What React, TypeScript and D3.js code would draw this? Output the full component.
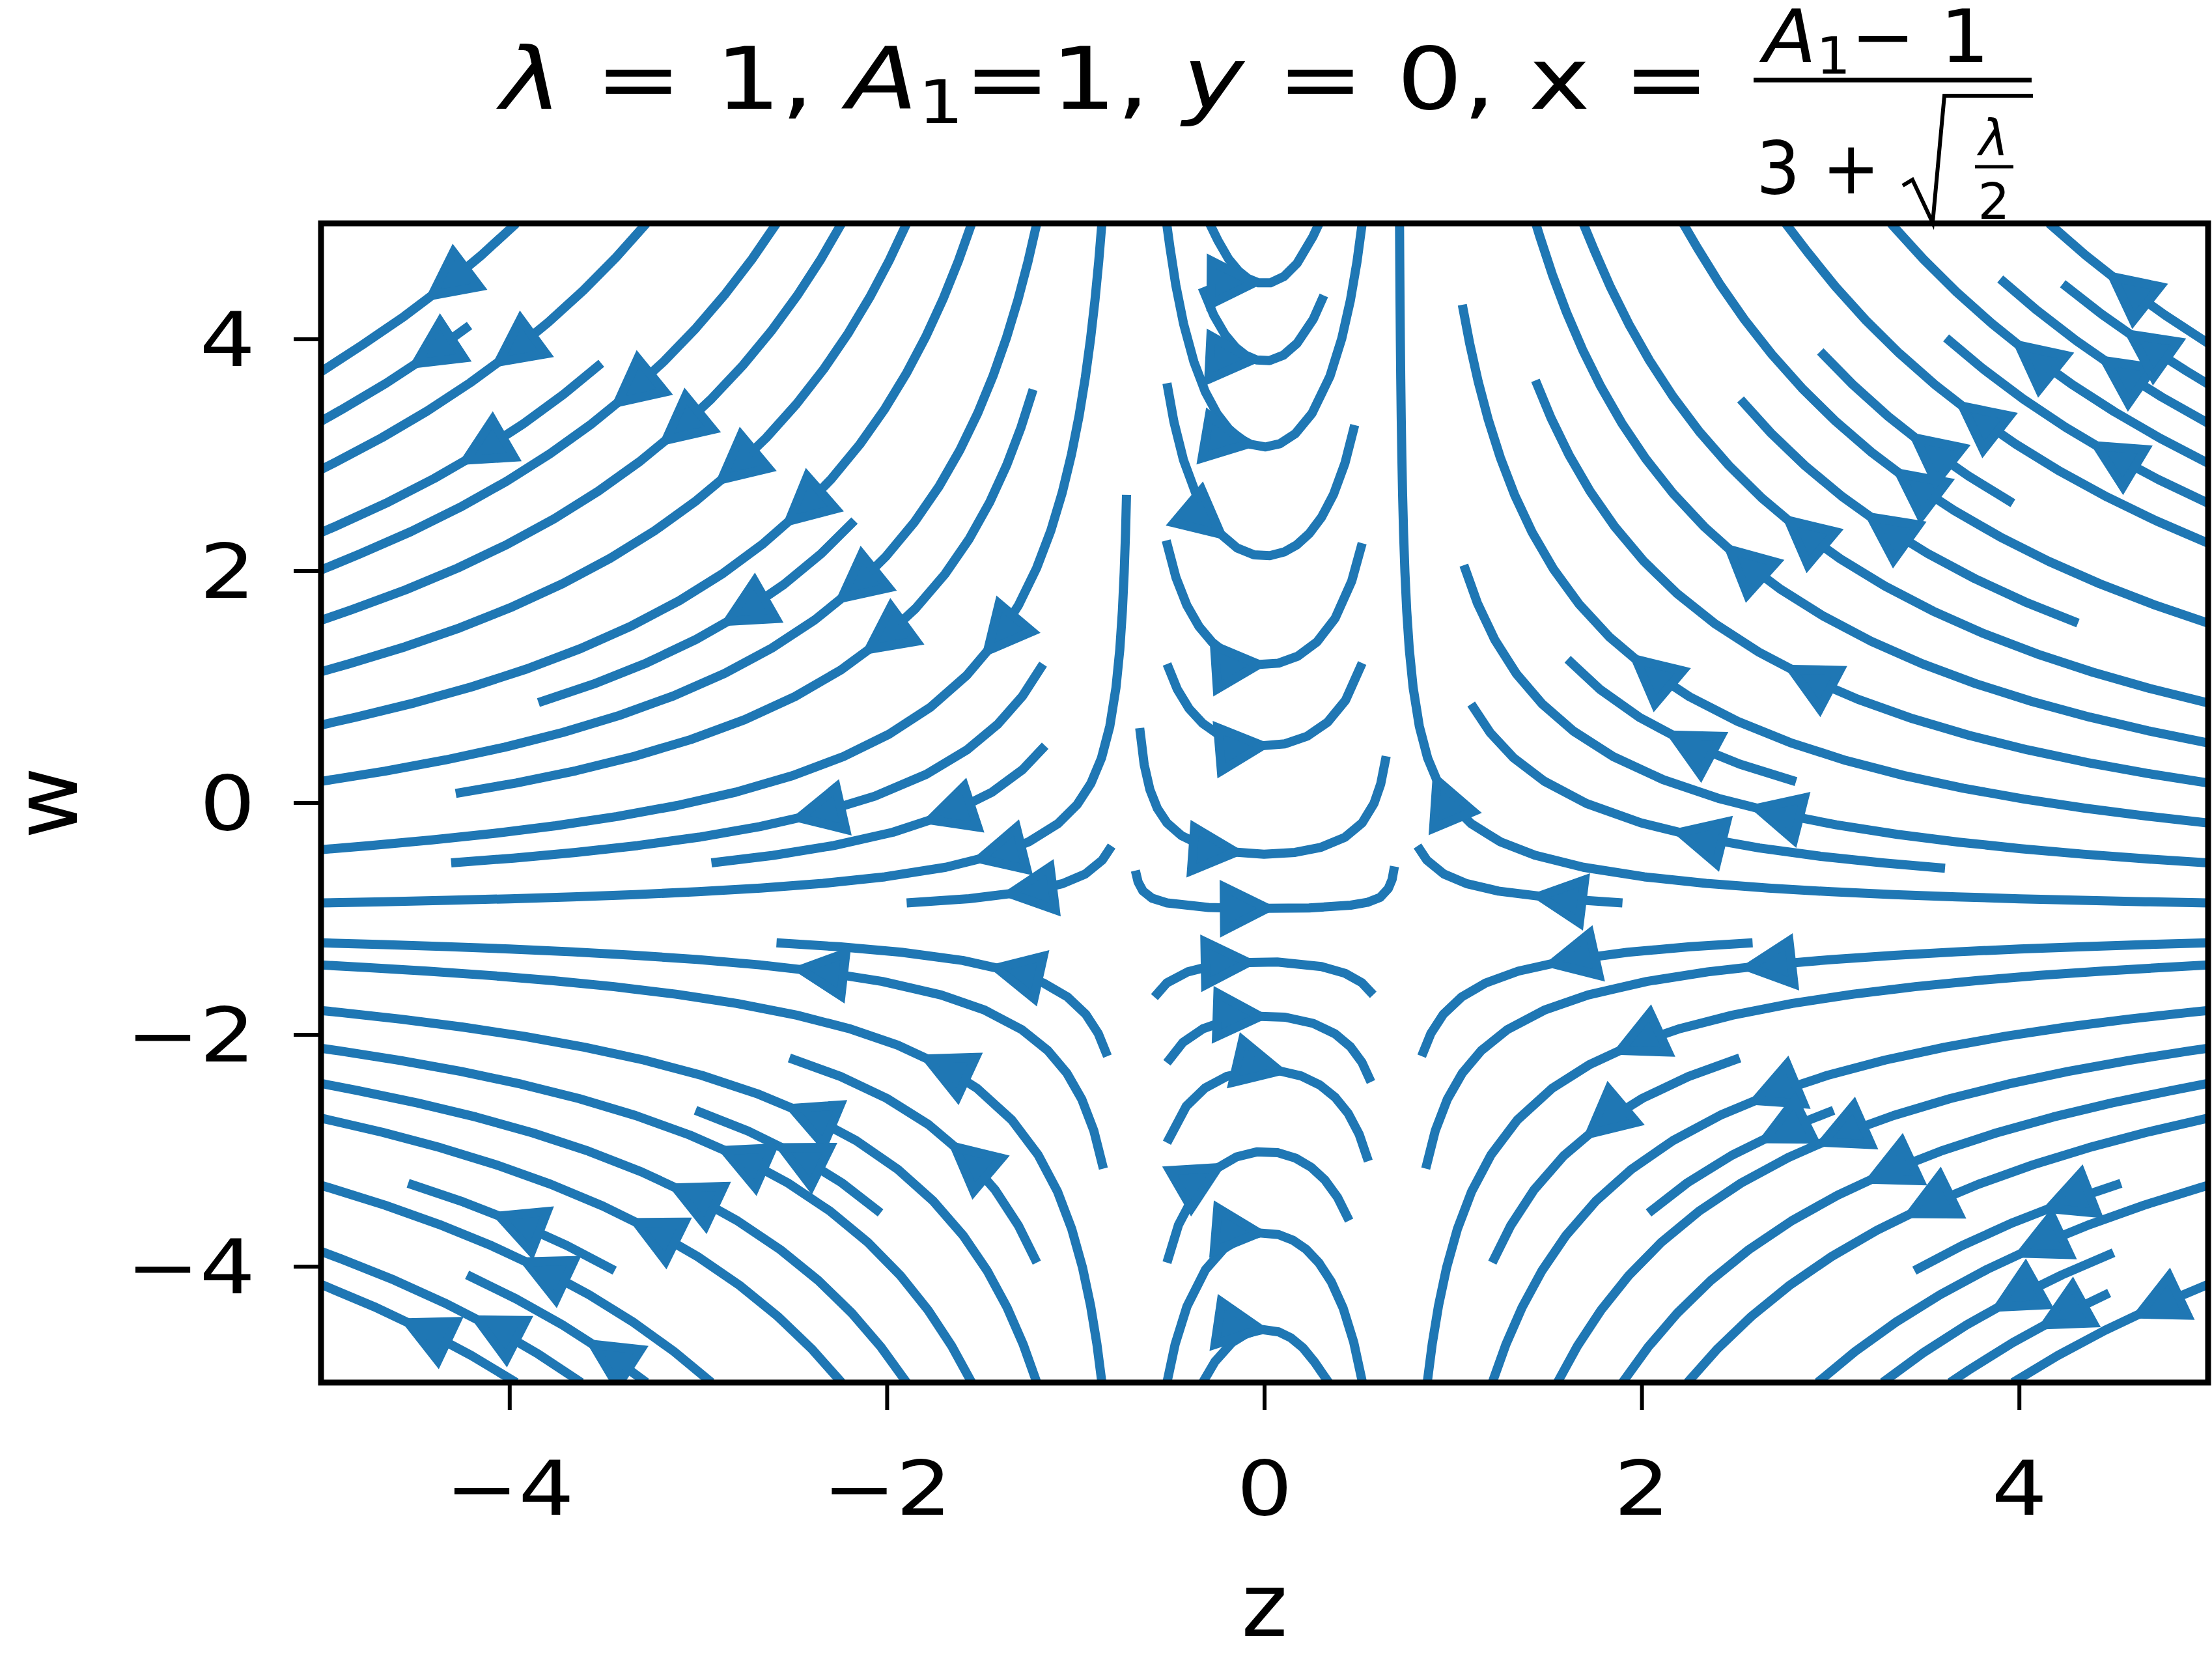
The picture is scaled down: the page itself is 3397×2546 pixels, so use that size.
import { useMemo } from "react";
import * as d3 from "d3";

// page and axes box (pixels)
const width = 3397;
const height = 2546;
const margin = { top: 343, right: 6, bottom: 423, left: 493 };

// axes
const zExtent = [-5, 5];
const wExtent = [-5, 5];
const zTicks = [-4, -2, 0, 2, 4];
const wTicks = [-4, -2, 0, 2, 4];

// field: the vertical lines sit at z = ±sqrt(lambda/2),
// the curves flatten towards w = -1, and (w + 1) * sqrt|z^2 - lambda/2| is constant on a curve
const lambdaValue = [1];
const wLevel = [-1];
const gridSize = [100, 100];
const streamDensity = [1];
const arrowScale = [165];

const blue = "#1f77b4";

// python style round (half to even), as the mask indexing uses it
const pyRound = (v: number) => (Math.abs(v % 1) === 0.5 ? 2 * Math.round(v / 2) : Math.round(v));

type P = [number, number];

function buildStreamlines() {
  const a2 = lambdaValue[0] / 2;
  const nx = gridSize[0], ny = gridSize[1];
  const gx = d3.range(nx).map((i) => zExtent[0] + ((zExtent[1] - zExtent[0]) * i) / (nx - 1));
  const gy = d3.range(ny).map((j) => wExtent[0] + ((wExtent[1] - wExtent[0]) * j) / (ny - 1));
  const dx = gx[1] - gx[0], dy = gy[1] - gy[0];

  const ug = new Float64Array(nx * ny);
  const vg = new Float64Array(nx * ny);
  const sp = new Float64Array(nx * ny);
  for (let j = 0; j < ny; j++) {
    for (let i = 0; i < nx; i++) {
      const z = gx[i], w = gy[j];
      const u = a2 - z * z;
      const v = z * (w - wLevel[0]);
      const k = j * nx + i;
      ug[k] = u / dx;
      vg[k] = v / dy;
      sp[k] = Math.hypot(ug[k] / (nx - 1), vg[k] / (ny - 1));
    }
  }

  const mnx = Math.floor(30 * streamDensity[0]), mny = Math.floor(30 * streamDensity[0]);
  const mask = new Uint8Array(mnx * mny);
  const xg2m = (mnx - 1) / (nx - 1), yg2m = (mny - 1) / (ny - 1);
  const OOB = { t: "oob" }, TERM = { t: "term" }, INV = { t: "inv" };
  let cur: P | null = null;
  let cells: number[] = [];

  const within = (xi: number, yi: number) => xi >= 0 && xi <= nx - 1 && yi >= 0 && yi <= ny - 1;
  const interp = (arr: Float64Array, xi: number, yi: number) => {
    const x = Math.trunc(xi), y = Math.trunc(yi);
    const xn = x === nx - 1 ? x : x + 1;
    const yn = y === ny - 1 ? y : y + 1;
    const xt = xi - x, yt = yi - y;
    const a0 = arr[y * nx + x] * (1 - xt) + arr[y * nx + xn] * xt;
    const a1 = arr[yn * nx + x] * (1 - xt) + arr[yn * nx + xn] * xt;
    return a0 * (1 - yt) + a1 * yt;
  };
  const fwd = (xi: number, yi: number): P => {
    if (!within(xi, yi)) throw OOB;
    const s = interp(sp, xi, yi);
    if (s === 0 || !isFinite(s)) throw TERM;
    return [interp(ug, xi, yi) / s, interp(vg, xi, yi) / s];
  };
  const bwd = (xi: number, yi: number): P => {
    const r = fwd(xi, yi);
    return [-r[0], -r[1]];
  };
  const visit = (xi: number, yi: number) => {
    const xm = pyRound(xi * xg2m), ym = pyRound(yi * yg2m);
    if (!cur || cur[0] !== xm || cur[1] !== ym) {
      if (mask[ym * mnx + xm] === 0) {
        cells.push(ym * mnx + xm);
        mask[ym * mnx + xm] = 1;
        cur = [xm, ym];
      } else throw INV;
    }
  };
  const update = (xi: number, yi: number) => {
    if (!within(xi, yi)) throw INV;
    visit(xi, yi);
  };

  const euler = (traj: P[], f: (x: number, y: number) => P) => {
    const [xi, yi] = traj[traj.length - 1];
    const [cx, cy] = f(xi, yi);
    const dsx = cx === 0 ? Infinity : cx < 0 ? xi / -cx : (nx - 1 - xi) / cx;
    const dsy = cy === 0 ? Infinity : cy < 0 ? yi / -cy : (ny - 1 - yi) / cy;
    const ds = Math.min(dsx, dsy);
    traj.push([xi + cx * ds, yi + cy * ds]);
    return ds;
  };

  const rk12 = (x0: number, y0: number, f: (x: number, y: number) => P): [number, P[]] => {
    const maxerror = 0.003;
    const maxds = Math.min(1 / mnx, 1 / mny, 0.1);
    const maxlength = 4;
    let ds = maxds, stotal = 0, xi = x0, yi = y0;
    const traj: P[] = [];
    for (let guard = 0; guard < 20000; guard++) {
      let k1: P, k2: P;
      try {
        if (within(xi, yi)) traj.push([xi, yi]);
        else throw OOB;
        k1 = f(xi, yi);
        k2 = f(xi + ds * k1[0], yi + ds * k1[1]);
      } catch (e) {
        if (e === OOB && traj.length) {
          try {
            stotal += euler(traj, f);
          } catch (_) {
            /* stop */
          }
        }
        break;
      }
      const dx1 = ds * k1[0], dy1 = ds * k1[1];
      const dx2 = ds * 0.5 * (k1[0] + k2[0]), dy2 = ds * 0.5 * (k1[1] + k2[1]);
      const error = Math.hypot((dx2 - dx1) / (nx - 1), (dy2 - dy1) / (ny - 1));
      if (error < maxerror) {
        xi += dx2;
        yi += dy2;
        try {
          update(xi, yi);
        } catch (_) {
          break;
        }
        if (stotal + ds > maxlength) break;
        stotal += ds;
      }
      ds = error === 0 ? maxds : Math.min(maxds, 0.85 * ds * Math.sqrt(maxerror / error));
    }
    return [stotal, traj];
  };

  const integrate = (x0: number, y0: number): P[] | null => {
    cells = [];
    cur = null;
    try {
      visit(x0, y0);
    } catch (_) {
      return null;
    }
    let stotal = 0;
    const [s1, t1] = rk12(x0, y0, bwd);
    stotal += s1;
    let out: P[] = t1.slice().reverse();
    cur = [pyRound(x0 * xg2m), pyRound(y0 * yg2m)];
    const [s2, t2] = rk12(x0, y0, fwd);
    stotal += s2;
    out = out.concat(t2.slice(1));
    if (stotal > 0.1) return out;
    for (const c of cells) mask[c] = 0;
    return null;
  };

  // spiral of seeds from the border inwards
  const seeds: P[] = [];
  {
    let xfirst = 0, yfirst = 1, xlast = mnx - 1, ylast = mny - 1;
    let x = 0, y = 0;
    let dir = "right";
    for (let i = 0; i < mnx * mny; i++) {
      seeds.push([x, y]);
      if (dir === "right") {
        x += 1;
        if (x >= xlast) { xlast -= 1; dir = "up"; }
      } else if (dir === "up") {
        y += 1;
        if (y >= ylast) { ylast -= 1; dir = "left"; }
      } else if (dir === "left") {
        x -= 1;
        if (x <= xfirst) { xfirst += 1; dir = "down"; }
      } else {
        y -= 1;
        if (y <= yfirst) { yfirst += 1; dir = "right"; }
      }
    }
  }

  const trajectories: P[][] = [];
  for (const [xm, ym] of seeds) {
    if (mask[ym * mnx + xm] !== 0) continue;
    const t = integrate(xm / xg2m, ym / yg2m);
    if (t) trajectories.push(t);
  }

  return trajectories.map((t) =>
    t.map(([xg, yg]) => [gx[0] + xg * dx, gy[0] + yg * dy] as P).filter((p) => isFinite(p[0]) && isFinite(p[1]))
  );
}

export default function App() {
  const x = d3.scaleLinear().domain(zExtent).range([margin.left, width - margin.right]);
  const y = d3.scaleLinear().domain(wExtent).range([height - margin.bottom, margin.top]);
  const streams = useMemo(() => buildStreamlines(), []);
  const line = d3.line<P>().x((d) => x(d[0])).y((d) => y(d[1]));

  const ms = arrowScale[0];
  const headL = 0.4 * ms, headW = 0.2 * ms, lw = 14;
  const sinT = headW / Math.hypot(headL, headW);
  const pad = (0.5 * lw) / sinT;

  const arrows = streams
    .filter((t) => t.length > 1)
    .map((t, i) => {
      const tx = t.map((p) => p[0]), ty = t.map((p) => p[1]);
      const s = d3.cumsum(d3.range(t.length - 1).map((k) => Math.hypot(tx[k + 1] - tx[k], ty[k + 1] - ty[k])));
      const half = s[s.length - 1] / 2;
      const n = d3.bisectLeft(Array.from(s), half);
      const tail: P = [x(tx[n]), y(ty[n])];
      const hx = n + 1 < t.length ? (tx[n] + tx[n + 1]) / 2 : tx[n];
      const hy = n + 1 < t.length ? (ty[n] + ty[n + 1]) / 2 : ty[n];
      const head: P = [x(hx), y(hy)];
      const ddx = head[0] - tail[0], ddy = head[1] - tail[1];
      const len = Math.hypot(ddx, ddy);
      if (len === 0) return null;
      const ux = ddx / len, uy = ddy / len;
      const tipX = head[0] - pad * ux, tipY = head[1] - pad * uy;
      const bx = tipX - headL * ux, by = tipY - headL * uy;
      const pts = [
        [bx - headW * uy, by + headW * ux],
        [tipX, tipY],
        [bx + headW * uy, by - headW * ux],
      ];
      return { key: i, d: `M${pts.map((p) => p.join(",")).join("L")}Z` };
    })
    .filter((a) => a !== null) as { key: number; d: string }[];

  const x0 = margin.left, x1 = width - margin.right, y0 = margin.top, y1 = height - margin.bottom;
  const tickLabel = (t: number) => (t < 0 ? `\u2212${-t}` : `${t}`);

  return (
    <svg width={width} height={height} style={{ position: "absolute", left: 0, top: 0, background: "#fff" }}>
      <defs>
        <clipPath id="axes-clip">
          <rect x={x0} y={y0} width={x1 - x0} height={y1 - y0} />
        </clipPath>
      </defs>
      <rect x={0} y={0} width={width} height={height} fill="#fff" />
      <g clipPath="url(#axes-clip)">
        <g fill="none" stroke={blue} strokeWidth={lw} strokeLinejoin="round">
          {streams.map((t, i) => (
            <path key={i} d={line(t) || ""} />
          ))}
        </g>
        <g fill={blue} stroke={blue} strokeWidth={lw} strokeLinejoin="miter">
          {arrows.map((a) => (
            <path key={a.key} d={a.d} />
          ))}
        </g>
      </g>
      <rect x={x0} y={y0} width={x1 - x0} height={y1 - y0} fill="none" stroke="#000" strokeWidth={9} />

      <g fontFamily="DejaVu Sans" fill="#000" fontSize={115}>
        {zTicks.map((t) => (
          <g key={`x${t}`}>
            <line x1={x(t)} x2={x(t)} y1={y1} y2={y1 + 42} stroke="#000" strokeWidth={6} />
            <text transform={`translate(${x(t)},2326) scale(1.17,1)`} textAnchor="middle">
              {tickLabel(t)}
            </text>
          </g>
        ))}
        {wTicks.map((t) => (
          <g key={`y${t}`}>
            <line x1={x0 - 42} x2={x0} y1={y(t)} y2={y(t)} stroke="#000" strokeWidth={6} />
            <text transform={`translate(392,${y(t) + 41}) scale(1.17,1)`} textAnchor="end">
              {tickLabel(t)}
            </text>
          </g>
        ))}
      </g>

      <g fontFamily="DejaVu Sans" fill="#000" fontSize={135}>
        <text x={(x0 + x1) / 2} y={2512} textAnchor="middle">z</text>
        <text x={118} y={(y0 + y1) / 2} textAnchor="middle" transform={`rotate(-90 118 ${(y0 + y1) / 2})`}>w</text>
      </g>

      <g fontFamily="DejaVu Sans" fill="#000" style={{ whiteSpace: "pre" }}>
        <text x={769} y={167} fontSize={132} textLength={1857} lengthAdjust="spacingAndGlyphs">
          <tspan fontStyle="italic">λ</tspan>
          <tspan>{" = 1, "}</tspan>
          <tspan fontStyle="italic">A</tspan>
          <tspan fontSize={92} dy={22}>1</tspan>
          <tspan dy={-22}>{"=1, "}</tspan>
          <tspan fontStyle="italic">y</tspan>
          <tspan>{" = 0, x ="}</tspan>
        </text>
        <text x={2708} y={95} fontSize={112} textLength={347} lengthAdjust="spacingAndGlyphs">
          <tspan fontStyle="italic">A</tspan>
          <tspan fontSize={78} dy={18}>1</tspan>
          <tspan dy={-18}>{"\u2212 1"}</tspan>
        </text>
        <line x1={2693} x2={3120} y1={123} y2={123} stroke="#000" strokeWidth={7} />
        <text x={2697} y={297} fontSize={112} textLength={190} lengthAdjust="spacingAndGlyphs">{"3 +"}</text>
        <path d="M2922,285 L2937,276 L2968,342 L2986,147 L3122,147" fill="none" stroke="#000" strokeWidth={6} />
        <text x={3062} y={238} fontSize={77} textAnchor="middle" fontStyle="italic">λ</text>
        <line x1={3033} x2={3092} y1={256} y2={256} stroke="#000" strokeWidth={5} />
        <text x={3062} y={336} fontSize={77} textAnchor="middle">2</text>
      </g>
    </svg>
  );
}
